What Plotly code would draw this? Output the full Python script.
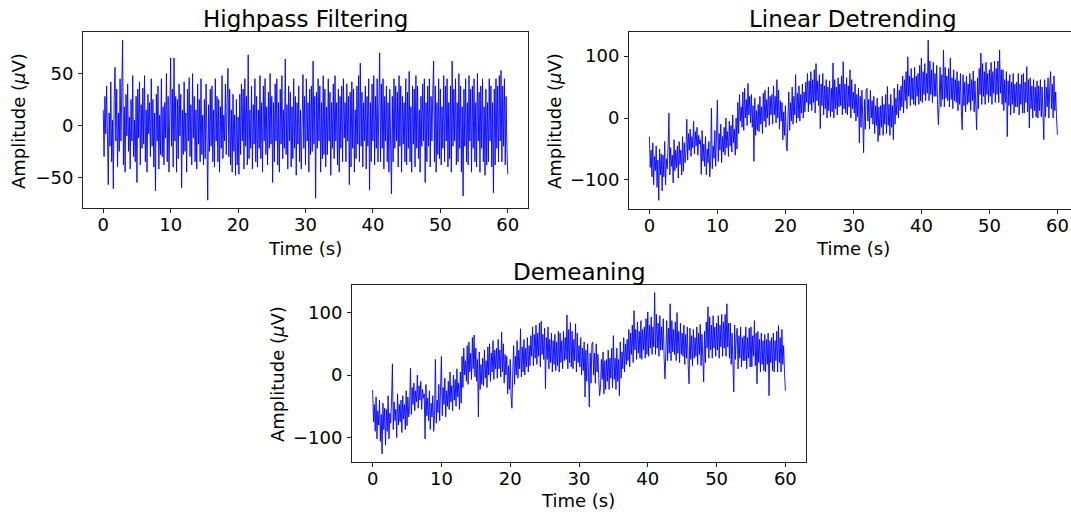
import plotly.graph_objects as go

# time axis: samples every 0.125 s from 0 to 60 s (8 per second)
time_s = [i * 0.125 for i in range(481)]

# values, one row per second (8 samples each)
highpass_uv = [
    15, -30, 28, -8, 38, -22, -57, 12,
    -20, 42, -35, 5, -61, 25, 56, -15,
    35, -40, 12, -25, 45, -15, 22, 82,
    -38, 18, -45, 30, -10, 40, -25, 8,
    -42, 25, -15, 48, -30, 5, -35, 28,
    -55, 35, -12, 42, -38, 20, -22, 36,
    -18, 48, -35, 15, -45, 30, -8, 22,
    -30, 45, -20, 25, -40, 12, -63, 30,
    -15, 38, -42, 10, -28, 45, -30, 18,
    -38, 22, -12, 50, -35, 28, -45, 15,
    65, -20, 35, -40, 65, -15, 28, -45,
    25, -32, 40, -10, 30, -60, 15, -28,
    42, -25, 12, -45, 35, -15, 46, -30,
    20, -38, 50, -12, 28, -35, 15, -42,
    40, -18, 25, -35, 45, -28, 10, -38,
    25, -32, 40, -8, -72, 20, -25, 35,
    -20, 38, -35, 15, -40, 45, -15, 28,
    -35, 25, -45, 18, -22, 48, -32, 10,
    -15, 40, -28, 22, 55, -30, 35, -38,
    15, -45, 30, -25, 10, -48, 25, -38,
    8, -47, 30, -28, 40, -15, 35, -42,
    45, -20, 28, -38, 68, -32, 15, -22,
    38, -42, 20, -18, 45, -35, 28, -40,
    15, -22, 48, -32, 22, -45, 38, -15,
    45, -28, 18, -38, 32, -22, 50, -18,
    28, -55, 22, -35, 40, -15, 45, -38,
    22, -45, 35, -18, 48, -32, 15, -22,
    64, -28, 20, -42, 38, -15, 32, -40,
    18, -32, 45, -22, 28, -48, 22, -18,
    38, -35, 15, -42, 32, 49, -22, 28,
    -38, 45, -15, 22, -45, 35, -28, 38,
    -25, 62, -18, 28, -70, 32, -22, 45,
    -15, 38, -45, 22, -32, 48, -28, 35,
    -40, 18, -28, 45, -15, 32, -48, 22,
    -22, 40, -32, 48, -15, 22, -38, 35,
    -45, 28, -22, 38, -35, 45, -12, 22,
    -35, 40, -15, 28, -57, 32, -40, 42,
    -22, 35, -45, 15, -32, 38, -18, 48,
    -35, 60, -20, 32, -40, 22, -15, 38,
    -42, 28, -20, 45, -62, 22, -35, 40,
    -15, 48, -38, 28, -22, 45, -35, 18,
    70, -35, 40, -22, 45, -42, 28, -15,
    38, -35, 22, -45, 35, -18, -66, 28,
    -35, 45, -22, 38, -15, 32, -40, 48,
    -20, 38, -45, 28, -18, 22, -35, 45,
    -38, 32, -22, 52, -35, 18, -45, 38,
    -18, 35, -40, 48, -22, 38, -32, 15,
    -45, 28, -20, 40, -15, 45, -55, 22,
    -35, 38, -20, 45, -40, 28, -15, 30,
    62, -35, 38, -45, 22, -28, 45, -32,
    35, -38, 18, -22, 48, -35, 38, -15,
    45, -40, 22, -32, 38, -45, 62, -20,
    35, -15, 45, -38, 22, -35, 50, -22,
    38, -45, 18, -68, 35, -20, 45, -35,
    22, -38, 48, -15, 35, -45, 38, -22,
    45, -35, 22, -40, 50, -15, 32, -45,
    38, -22, 45, -35, 18, -48, 35, -38,
    22, -35, 45, -15, 38, -40, 22, -65,
    35, -38, 45, -22, 38, -35, 48, -15,
    53, -35, 38, -20, 45, -38, 28, -22,
    -47,
]

detrend_uv = [
    -30, -80, -52, -95, -40, -108, -62, -85,
    -45, -112, -68, -133, -50, -92, -58, -118,
    -60, -95, -38, -108, -66, -82, -45, 8,
    -92, -48, -78, -60, -105, -35, -85, -52,
    -80, -45, -97, -38, -75, -52, -92, -30,
    -86, -40, -72, -55, -2, -68, -25, -52,
    -18, -62, -30, -48, -5, -58, -22, -45,
    -15, -60, -28, -42, -35, -91, -20, -70,
    -42, -78, -30, -92, -50, -72, -38, -95,
    -70, 16, -82, -45, -65, -20, -78, -35,
    29, -70, -25, -52, -10, -72, -30, -55,
    -15, -60, 0, -48, -22, -62, -5, -45,
    -12, -55, 5, -40, -18, -60, 0, -50,
    25, -25, 38, -5, 18, -15, 42, -20,
    48, 0, 30, -12, 56, 5, 35, -8,
    38, -15, 20, -70, 32, -28, 12, -20,
    22, -22, 35, -10, 18, -25, 40, -5,
    45, -15, 30, 0, 50, -12, 35, 5,
    38, -10, 52, 5, 35, -8, 62, 0,
    45, -18, 28, -5, 25, -35, 10, -28,
    20, -40, -53, 0, 42, -20, 25, -5,
    50, -10, 35, 5, 70, -8, 40, 0,
    52, -5, 38, 8, 55, 0, 42, 10,
    58, 25, 72, 10, 60, 22, 75, 12,
    62, 25, 78, 8, 88, 28, 60, 20,
    70, -17, 55, 20, 72, 5, 52, 15,
    62, 0, 50, 12, 60, 2, 48, 10,
    89, 0, 62, 15, 50, 5, 65, 18,
    55, 20, 68, 5, 91, 15, 55, 8,
    65, 5, 52, 18, 78, 0, 62, 15,
    42, 8, 55, -5, 38, 2, 48, -40,
    35, -15, 45, 0, -56, 30, -18, 45,
    48, -5, 30, -18, 45, 0, 28, -10,
    35, -25, 20, -12, 32, -38, 18, -28,
    20, -15, 35, -28, 22, -10, 38, -25,
    51, -12, 22, -28, 38, -15, 20, -35,
    48, -10, 32, 5, 55, 0, 45, 12,
    52, 18, 68, 8, 62, 28, 75, 15,
    99, 35, 68, 20, 80, 30, 65, 22,
    82, 20, 68, 35, 72, 22, 85, 28,
    97, 25, 75, 38, 88, 28, 72, 40,
    126, 28, 92, 38, 78, 25, 90, 35,
    72, 35, 85, 22, -11, 30, 82, 18,
    70, 30, 110, 18, 82, 32, 68, 28,
    80, 18, 97, 30, 65, 15, 78, 28,
    62, 25, 75, 12, 60, 22, 72, 10,
    -19, 70, 20, 58, 10, 68, 22, 55,
    25, 72, 12, 62, 28, 76, 10, 60,
    28, -19, 65, 15, 80, 38, 105, 22,
    88, 35, 75, 22, 90, 38, 72, 25,
    78, 35, 90, 22, 75, 40, 92, 25,
    80, 38, 92, 25, 110, 40, 78, 22,
    78, 12, 62, 25, 75, -30, 60, 20,
    70, 5, 58, 22, 72, 8, 55, 18,
    58, 18, 72, 5, 55, 22, 70, 8,
    72, 8, 58, 25, 83, 10, 62, -16,
    65, 15, 52, 0, 62, 12, 50, 2,
    60, 0, 52, 12, 62, 2, 50, 15,
    -35, 62, 2, 50, 18, 65, 0, 52,
    75, 15, 55, 0, 68, 12, 42, 0,
    -27,
]

demean_uv = [
    -24, -75, -47, -90, -35, -102, -57, -80,
    -40, -106, -63, -126, -45, -87, -53, -112,
    -55, -90, -33, -102, -61, -77, -40, 18,
    -87, -43, -73, -55, -100, -30, -80, -47,
    -75, -40, -92, -33, -70, -47, -87, -25,
    -81, -35, -67, -50, 11, -63, -20, -47,
    -13, -57, -25, -43, 0, -53, -17, -40,
    -10, -55, -23, -37, -30, -102, -15, -65,
    -37, -73, -25, -87, -45, -67, -33, -90,
    -65, 25, -77, -40, -60, -15, -73, -30,
    30, -65, -20, -47, -5, -67, -25, -50,
    -10, -55, 5, -43, -17, -57, 0, -40,
    -7, -50, 10, -35, -13, -55, 5, -45,
    30, -20, 43, 0, 23, -10, 47, -15,
    53, 5, 35, -7, 60, 10, 64, -3,
    43, -10, 25, -67, 37, -23, 17, -15,
    27, -17, 40, -5, 23, -20, 45, 0,
    50, -10, 35, 5, 55, -7, 40, 10,
    43, -5, 57, 10, 40, -3, 69, 5,
    50, -13, 33, 0, 30, -30, 15, -23,
    25, -35, -53, 5, 47, -15, 30, 0,
    55, -5, 40, 10, 74, -3, 45, 5,
    57, 0, 43, 13, 60, 5, 47, 15,
    63, 30, 77, 15, 65, 27, 80, 17,
    67, 30, 83, 13, 86, 33, 65, 25,
    75, -22, 60, 25, 77, 10, 57, 20,
    67, 5, 55, 17, 65, 7, 53, 15,
    70, 5, 67, 20, 55, 10, 70, 23,
    60, 25, 96, 10, 73, 20, 84, 13,
    70, 10, 57, 23, 82, 5, 67, 20,
    47, 13, 60, 0, 43, 7, 53, -35,
    40, -10, 50, 5, -51, 35, -13, 50,
    53, 0, 35, -13, 50, 5, 33, -5,
    -33, -20, 25, -7, 37, -30, 23, -23,
    25, -10, 40, -23, 27, -5, 43, -20,
    63, -7, 27, -23, 43, -10, 25, -33,
    53, -5, 37, 10, 60, 5, 50, 17,
    57, 23, 73, 13, 67, 33, 80, 20,
    103, 40, 73, 25, 85, 35, 70, 27,
    87, 25, 73, 40, 77, 27, 90, 33,
    101, 30, 80, 43, 93, 33, 77, 45,
    132, 33, 97, 43, 83, 30, 95, 40,
    77, 40, 90, 27, -6, 35, 87, 23,
    75, 35, 114, 23, 87, 37, 73, 33,
    85, 23, 100, 35, 70, 20, 83, 33,
    67, 30, 80, 17, 65, 27, 77, 15,
    -14, 75, 25, 63, 15, 73, 27, 60,
    30, 77, 17, 67, 33, 81, 15, 65,
    33, -11, 70, 20, 85, 43, 109, 27,
    93, 40, 80, 27, 95, 43, 77, 30,
    83, 40, 95, 27, 80, 45, 97, 30,
    85, 43, 97, 30, 114, 45, 83, 27,
    83, 17, 67, 30, -27, 80, 25, 65,
    75, 10, 63, 27, 77, 13, 60, 23,
    63, 23, 77, 10, 60, 27, 75, 13,
    77, 13, 63, 30, 87, 15, 67, -14,
    70, 20, 57, 5, 67, 17, 55, 7,
    65, 5, 57, 17, 67, -33, 55, 20,
    60, 7, 67, 5, 55, 23, 70, 5,
    79, 20, 60, 5, 73, 17, 47, 5,
    -25,
]

titles = ["Highpass Filtering", "Linear Detrending", "Demeaning"]
x_ticks = [0, 10, 20, 30, 40, 50, 60]

W, H = 1071, 512
FONT = "DejaVu Sans"

fig = go.Figure()
line = dict(color="#0000ff", width=0.9)
fig.add_trace(go.Scatter(x=time_s, y=highpass_uv, mode="lines", line=line, xaxis="x", yaxis="y"))
fig.add_trace(go.Scatter(x=time_s, y=detrend_uv, mode="lines", line=line, xaxis="x2", yaxis="y2"))
fig.add_trace(go.Scatter(x=time_s, y=demean_uv, mode="lines", line=line, xaxis="x3", yaxis="y3"))

def px_x(p):
    return p / W

def px_y(p):
    return 1 - p / H

axis_common = dict(
    showgrid=False, zeroline=False, showline=True, linecolor="#222", linewidth=1,
    ticks="outside", ticklen=4, tickwidth=1, tickcolor="#222",
    tickfont=dict(family=FONT, size=18, color="black"),
)
xstand = dict(ticklabelstandoff=-4)
ystand = dict(ticklabelstandoff=1)

fig.update_layout(
    width=W, height=H, margin=dict(l=0, r=0, t=0, b=0),
    paper_bgcolor="white", plot_bgcolor="white", showlegend=False,
    xaxis=dict(domain=[px_x(83), px_x(528)], range=[-3, 63], tickvals=x_ticks, anchor="y", mirror=True, **axis_common, **xstand),
    yaxis=dict(domain=[px_y(208), px_y(32)], range=[-79.5, 90], tickvals=[-50, 0, 50], anchor="x", mirror=True, **axis_common, **ystand),
    xaxis2=dict(domain=[px_x(629), 1.0], range=[-3, 62], tickvals=x_ticks, anchor="y2", mirror=True, **axis_common, **xstand),
    yaxis2=dict(domain=[px_y(209), px_y(32)], range=[-147, 139], tickvals=[-100, 0, 100], anchor="x2", mirror=False, **axis_common, **ystand),
    xaxis3=dict(domain=[px_x(352), px_x(806)], range=[-3, 63], tickvals=x_ticks, anchor="y3", mirror=True, **axis_common, **xstand),
    yaxis3=dict(domain=[px_y(462), px_y(285)], range=[-139, 144], tickvals=[-100, 0, 100], anchor="x3", mirror=True, **axis_common, **ystand),
)

ann = []
def add_text(text, x, y, size, angle=0):
    ann.append(dict(text=text, x=px_x(x), y=px_y(y), xref="paper", yref="paper",
                    xanchor="center", yanchor="middle", showarrow=False, textangle=angle,
                    font=dict(family=FONT, size=size, color="black")))

add_text(titles[0], 305, 19, 23)
add_text(titles[1], 853, 19, 23)
add_text(titles[2], 579, 272, 23)
add_text("Time (s)", 305, 248, 18)
add_text("Time (s)", 853, 248, 18)
add_text("Time (s)", 578, 500, 18)
ylab = "Amplitude (<i>μ</i>V)"
add_text(ylab, 18, 121, 18, -90)
add_text(ylab, 554, 121, 18, -90)
add_text(ylab, 277, 374, 18, -90)
fig.update_layout(annotations=ann)

fig.write_html("out.html")
